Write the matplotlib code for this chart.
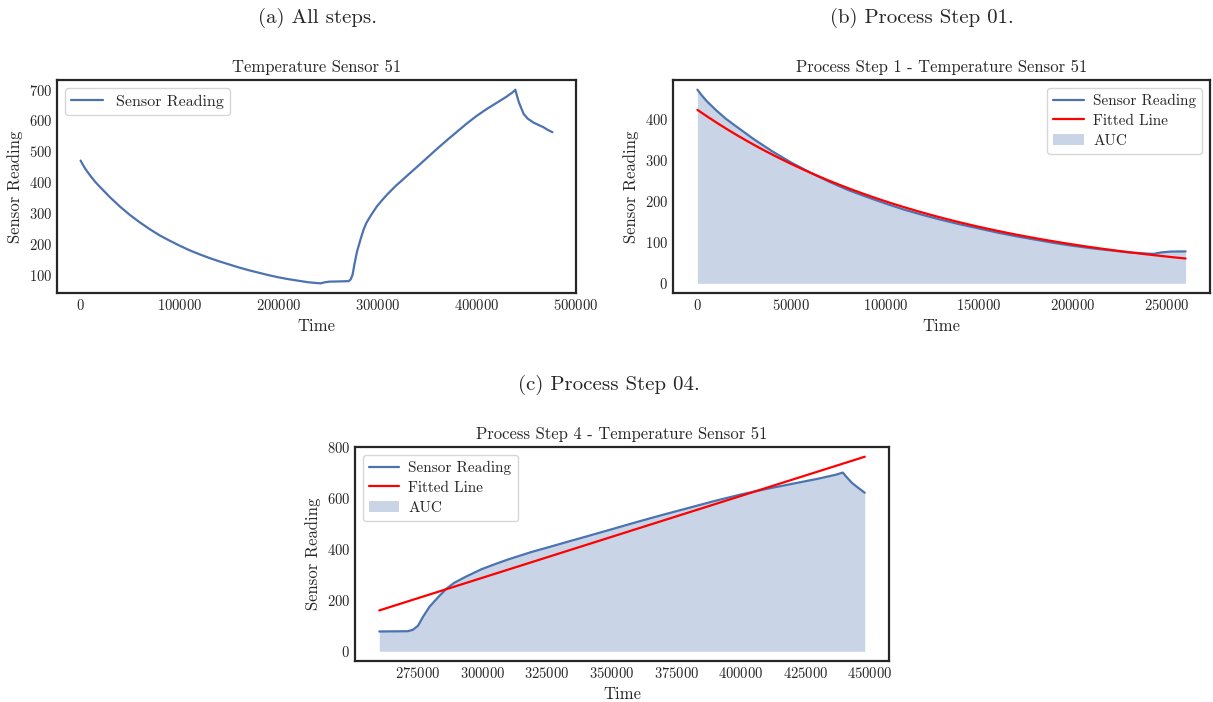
import numpy as np
import seaborn as sns
from matplotlib import pyplot as plt

# sensor 51 readings over the whole run
time = [0, 2000, 5000, 10000, 15000, 20000, 30000, 40000, 50000, 60000,
	70000, 80000, 90000, 100000, 110000, 120000, 130000, 140000, 150000, 160000,
	170000, 180000, 190000, 200000, 210000, 220000, 230000, 240000, 243000, 247000,
	252000, 260000, 265000, 271000, 273000, 275000, 277000, 279500, 283000, 286000,
	289000, 293500, 299500, 305000, 310000, 319000, 325000, 334000, 340000, 349000,
	360000, 370000, 380000, 390000, 400000, 410000, 420000, 430000, 437000, 439500,
	441000, 443000, 445500, 448000, 452000, 458000, 464000, 468000, 472000, 477000]
reading = [470, 458, 442, 420, 400, 383, 350, 320, 293, 269,
	247, 227, 210, 194, 179, 166, 154, 143, 133, 123,
	114, 106, 98, 91, 85, 80, 75, 72, 71.5, 75,
	77, 77.5, 78, 78.5, 84, 100, 136, 175, 214, 245,
	268, 292, 321, 342, 360, 389, 406, 432, 449, 475,
	507, 535, 562, 589, 614, 636, 656, 676, 692, 700,
	682, 660, 640, 621, 606, 593, 584, 578, 570, 562]

# process step windows
step1 = (0, 260000)
step4 = (260000, 448000)

# step 1: exponential fit  a*exp(-b*t)
fit1_a = 421.0
fit1_b = 7.48e-6
# step 4: straight line fit, values at the window ends
fit4_ends = [160, 762]

sns.set_style("white")
plt.rcParams['font.family'] = 'serif'
plt.rcParams['font.serif'] = ['cmr10']
plt.rcParams['mathtext.fontset'] = 'cm'
plt.rcParams['axes.formatter.use_mathtext'] = True
plt.rcParams['axes.unicode_minus'] = False

BLUE = '#4C72B0'
W, H = 1213.0, 702.0

def box(l, t, r, b):
	return [l/W, 1-b/H, (r-l)/W, (b-t)/H]

def style(ax, title):
	ax.set_title(title, fontsize=12, color='.15')
	ax.set_xlabel('Time', fontsize=12, color='.15')
	ax.set_ylabel('Sensor Reading', fontsize=12, color='.15')
	ax.tick_params(labelsize=10.5, colors='.15', length=0)
	for s in ax.spines.values():
		s.set_linewidth(1.6)
		s.set_color('.15')

def step_plot(ax, lim, fit, title, loc):
	t = np.array(time, dtype=float)
	v = np.array(reading, dtype=float)
	m = (t >= lim[0]) & (t <= lim[1])
	ax.plot(t[m], v[m], color=BLUE, lw=1.6, label='Sensor Reading')
	ax.plot(fit[0], fit[1], color='red', lw=1.6, label='Fitted Line')
	ax.fill_between(t[m], v[m], color=BLUE, alpha=0.3, lw=0, label='AUC')
	style(ax, title)
	ax.legend(loc=loc, fontsize=11, labelspacing=0.4, handletextpad=0.6)

fig = plt.figure(figsize=(W/100, H/100), dpi=100)

ax = fig.add_axes(box(57, 80, 576, 293))
ax.plot(time, reading, color=BLUE, lw=1.6, label='Sensor Reading')
style(ax, 'Temperature Sensor 51')
ax.legend(loc='upper left', fontsize=11.5)

ax = fig.add_axes(box(673, 80, 1210, 293))
tf = np.linspace(step1[0], step1[1], 200)
step_plot(ax, step1, (tf, fit1_a*np.exp(-fit1_b*tf)),
	'Process Step 1 - Temperature Sensor 51', 'upper right')

ax = fig.add_axes(box(355, 447, 889, 661))
step_plot(ax, step4, (list(step4), fit4_ends),
	'Process Step 4 - Temperature Sensor 51', 'upper left')

fig.text(318/W, 1-18/H, '(a) All steps.', fontsize=15, ha='center', va='center')
fig.text(922/W, 1-18/H, '(b) Process Step 01.', fontsize=15, ha='center', va='center')
fig.text(609/W, 1-385/H, '(c) Process Step 04.', fontsize=15, ha='center', va='center')

fig.savefig('out.png', dpi=100)
